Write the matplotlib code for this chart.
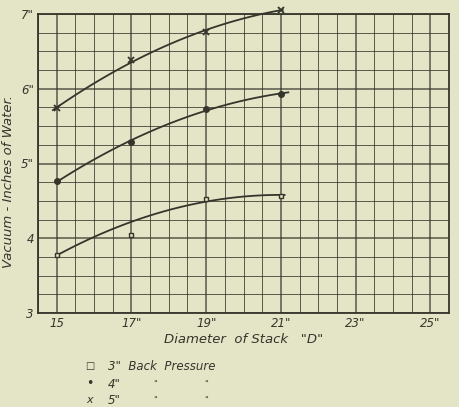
import matplotlib
matplotlib.use("Agg")
import matplotlib.pyplot as plt
import numpy as np

# stack diameters (inches)
diam = [15, 17, 19, 21]

# vacuum readings, inches of water, per back pressure
vac_3 = [3.77, 4.05, 4.53, 4.56]
vac_4 = [4.76, 5.29, 5.73, 5.93]
vac_5 = [5.74, 6.38, 6.76, 7.06]

# faired curve values drawn through the readings (3" curve misses the 17" point)
curve_3 = [3.77, 4.22, 4.49, 4.58]
curve_4 = [4.76, 5.29, 5.73, 5.93]
curve_5 = [5.74, 6.38, 6.76, 7.06]

xticks = [15, 17, 19, 21, 23, 25]
xtick_labels = ['15', '17"', '19"', '21"', '23"', '25"']
yticks = [3, 4, 5, 6, 7]
ytick_labels = ['3', '4', '5"', '6"', '7"']

paper = '#e4e4c7'
ink = '#35352c'

fig = plt.figure(figsize=(4.59, 4.07), dpi=100, facecolor=paper)
ax = fig.add_axes([38 / 459, 1 - 313 / 407, 411 / 459, 299 / 407])
ax.set_facecolor(paper)

ax.set_xlim(14.5, 25.5)
ax.set_ylim(3, 7)

# graph paper grid
for gx in np.arange(14.5, 25.51, 0.5):
    lw = 1.1 if gx in xticks else 0.7
    ax.axvline(gx, color=ink, lw=lw, alpha=0.8, zorder=1)
for gy in np.arange(3, 7.01, 0.25):
    lw = 1.1 if gy in yticks else 0.7
    ax.axhline(gy, color=ink, lw=lw, alpha=0.8, zorder=1)

def fair(xs, ys, x0, x1):
    c = np.polyfit(xs, ys, 2)
    xx = np.linspace(x0, x1, 100)
    return xx, np.polyval(c, xx)

xx, yy = fair(diam, curve_3, 15, 21.1)
ax.plot(xx, yy, color=ink, lw=1.3, zorder=3, clip_on=False)
xx, yy = fair(diam, curve_4, 15, 21.2)
ax.plot(xx, yy, color=ink, lw=1.3, zorder=3, clip_on=False)
xx, yy = fair(diam, curve_5, 14.9, 21.05)
ax.plot(xx, yy, color=ink, lw=1.3, zorder=3, clip_on=False)

ax.plot(diam, vac_3, ls='none', marker='s', ms=3.5, mfc=paper, mec=ink, mew=1, zorder=4, clip_on=False)
ax.plot(diam, vac_4, ls='none', marker='o', ms=4, color=ink, zorder=4, clip_on=False)
ax.plot(diam, vac_5, ls='none', marker='x', ms=5, mew=1.3, color=ink, zorder=4, clip_on=False)

for s in ax.spines.values():
    s.set_color(ink)
    s.set_linewidth(1.3)

font = dict(family='DejaVu Sans', style='italic', color=ink)
ax.set_xticks(xticks)
ax.set_xticklabels(xtick_labels, fontsize=8.5, **font)
ax.set_yticks(yticks)
ax.set_yticklabels(ytick_labels, fontsize=8.5, **font)
ax.tick_params(length=0, pad=3)

ax.set_xlabel('Diameter  of Stack   "D"', fontsize=9.5, labelpad=2, **font)
ax.set_ylabel('Vacuum - Inches of Water.', fontsize=9.5, **font)
ax.yaxis.set_label_coords(-23 / 411, 0.44)

# hand-drawn key below the chart
fig.text(90 / 459, 1 - 366 / 407, '□', fontsize=7, ha='center', va='center', color=ink)
fig.text(90 / 459, 1 - 384 / 407, '•', fontsize=9, ha='center', va='center', color=ink)
fig.text(90 / 459, 1 - 400 / 407, 'x', fontsize=8, ha='center', va='center', **font)
fig.text(108 / 459, 1 - 366 / 407, '3"  Back  Pressure', fontsize=8.5, ha='left', va='center', **font)
fig.text(108 / 459, 1 - 384 / 407, '4"', fontsize=8.5, ha='left', va='center', **font)
fig.text(108 / 459, 1 - 400 / 407, '5"', fontsize=8.5, ha='left', va='center', **font)
for yy_ in (384, 400):
    fig.text(155 / 459, 1 - yy_ / 407, '"', fontsize=6, ha='center', va='center', **font)
    fig.text(206 / 459, 1 - yy_ / 407, '"', fontsize=6, ha='center', va='center', **font)

fig.savefig('out.png', dpi=100, facecolor=paper)
